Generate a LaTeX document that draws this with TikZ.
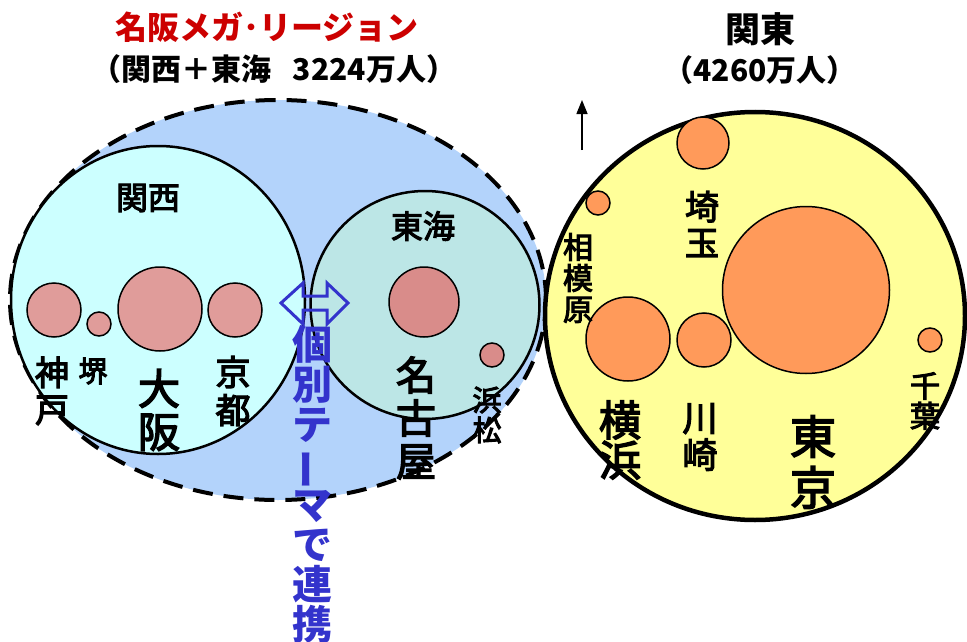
\documentclass[tikz,border=0pt]{standalone}
\usepackage{fontspec}
\setmainfont{Noto Sans CJK JP}
\newfontfamily\medjp{Noto Sans CJK JP}[FakeBold=3.5]
\usetikzlibrary{shapes.geometric,arrows.meta}
\definecolor{megablue}{HTML}{B3D3FB}
\definecolor{kansaifill}{HTML}{CCFFFF}
\definecolor{tokaifill}{HTML}{BCE6E6}
\definecolor{kantofill}{HTML}{FFFF99}
\definecolor{pinkK}{HTML}{E09C9A}
\definecolor{pinkT}{HTML}{D98C8A}
\definecolor{orangeC}{HTML}{FF9A5A}
\definecolor{titlered}{HTML}{CC0000}
\definecolor{themeblue}{HTML}{3333CC}
\newcommand{\fs}[2]{\fontsize{#1}{#2}\selectfont}
\tikzset{
  region/.style={ellipse, draw=black, line width=2.5pt, inner sep=0pt},
  city/.style={circle, draw=black, line width=1.5pt, inner sep=0pt},
  lbl/.style={align=center, inner sep=0pt, text=black},
  clbl/.style 2 args={lbl, font=\medjp\fs{#1}{#2}},
}
\begin{document}
\begin{tikzpicture}[x=1pt,y=-1pt]
\useasboundingbox[fill=white] (0,0) rectangle (967,642);
% mega region
\node[ellipse, fill=megablue, draw=black, line width=4pt, dash pattern=on 20pt off 11pt,
      minimum width=536pt, minimum height=400pt, inner sep=0pt] (mega) at (278,300) {};
% Kansai and Tokai
\node[region, fill=kansaifill, minimum width=294pt, minimum height=308pt] (kansai) at (158,300) {};
\node[region, fill=tokaifill, minimum width=229pt, minimum height=228pt] (tokai) at (425,305) {};
% Kanto
\node[ellipse, draw=black, line width=4.5pt, fill=kantofill, minimum width=420pt, minimum height=408pt, inner sep=0pt] (kanto) at (755,316) {};

% Kansai cities
\node[city, fill=pinkK, minimum size=54pt] (kobe) at (54,310) {};
\node[city, fill=pinkK, minimum size=24pt] (sakai) at (99,324) {};
\node[city, fill=pinkK, minimum size=84pt] (osaka) at (160,309) {};
\node[city, fill=pinkK, minimum size=54pt] (kyoto) at (235,310) {};
% Tokai cities
\node[city, fill=pinkT, minimum size=70pt] (nagoya) at (424,302) {};
\node[city, fill=pinkT, minimum size=24pt] (hamamatsu) at (492,355) {};
% Kanto cities
\node[city, fill=orangeC, minimum size=52pt] (saitama) at (703,143) {};
\node[city, fill=orangeC, minimum size=24pt] (sagamihara) at (598,203) {};
\node[city, fill=orangeC, minimum size=84pt] (yokohama) at (628,339) {};
\node[city, fill=orangeC, minimum size=54pt] (kawasaki) at (704,340) {};
\node[city, fill=orangeC, minimum size=167pt] (tokyo) at (806,290) {};
\node[city, fill=orangeC, minimum size=24pt] (chiba) at (930,340) {};

% titles
\node[lbl, text=titlered, font=\bfseries\fs{32}{32}] (megatitle) at (267,27) {名阪メガ･リージョン};
\node[lbl, font=\bfseries\fs{30}{30}] (megasub) at (274,69) {（関西＋東海\hspace{0.7em}3224万人）};
\node[lbl, font=\bfseries\fs{35}{35}] (kantotitle) at (760,29) {関東};
\node[lbl, font=\bfseries\fs{30}{30}] (kantosub) at (760,70) {（4260万人）};

% region labels
\node[clbl={32}{32}] (lkansai) at (148,198) {関西};
\node[clbl={32}{32}] (ltokai) at (423,226) {東海};

% city labels
\node[clbl={34}{37}] (lkobe) at (52,391) {神\\戸};
\node[clbl={29}{29}] (lsakai) at (93,371) {堺};
\node[clbl={42}{43}] (losaka) at (159,410) {大\\阪};
\node[clbl={35}{38}] (lkyoto) at (233,391) {京\\都};
\node[clbl={40}{43}] (lnagoya) at (416,418) {名\\古\\屋};
\node[clbl={29}{30}] (lhamamatsu) at (487,415) {浜\\松};
\node[clbl={34}{36}] (lsaitama) at (702,224) {埼\\玉};
\node[clbl={30}{31}] (lsagamihara) at (578,278) {相\\模\\原};
\node[clbl={42}{40}] (lyokohama) at (620,440) {横\\浜};
\node[clbl={35}{37}] (lkawasaki) at (700,437) {川\\崎};
\node[clbl={46}{51}] (ltokyo) at (813,462) {東\\京};
\node[clbl={30}{30}] (lchiba) at (925,401) {千\\葉};

% theme link
\begin{scope}[shift={(315,303)}]
\draw[themeblue, line width=3pt, line join=miter]
  (-34,0) -- (-12,-20) -- (-12,-7) -- (12,-7) -- (12,-20) -- (33,0)
  -- (12,21) -- (12,7) -- (-12,7) -- (-12,21) -- cycle;
\end{scope}
\node[lbl, text=themeblue, font=\bfseries\fs{40}{40}, anchor=north] (ltheme) at (312,325)
  {個\\別\\テ\\\rotatebox[origin=c]{90}{ー}\\マ\\で\\連\\携};

% small arrow
\coordinate (arrS) at (582,150);
\coordinate (arrE) at (582,100);
\draw[line width=1.5pt, -{Triangle[length=14pt,width=11pt]}] (arrS) -- (arrE);
\end{tikzpicture}
\end{document}
